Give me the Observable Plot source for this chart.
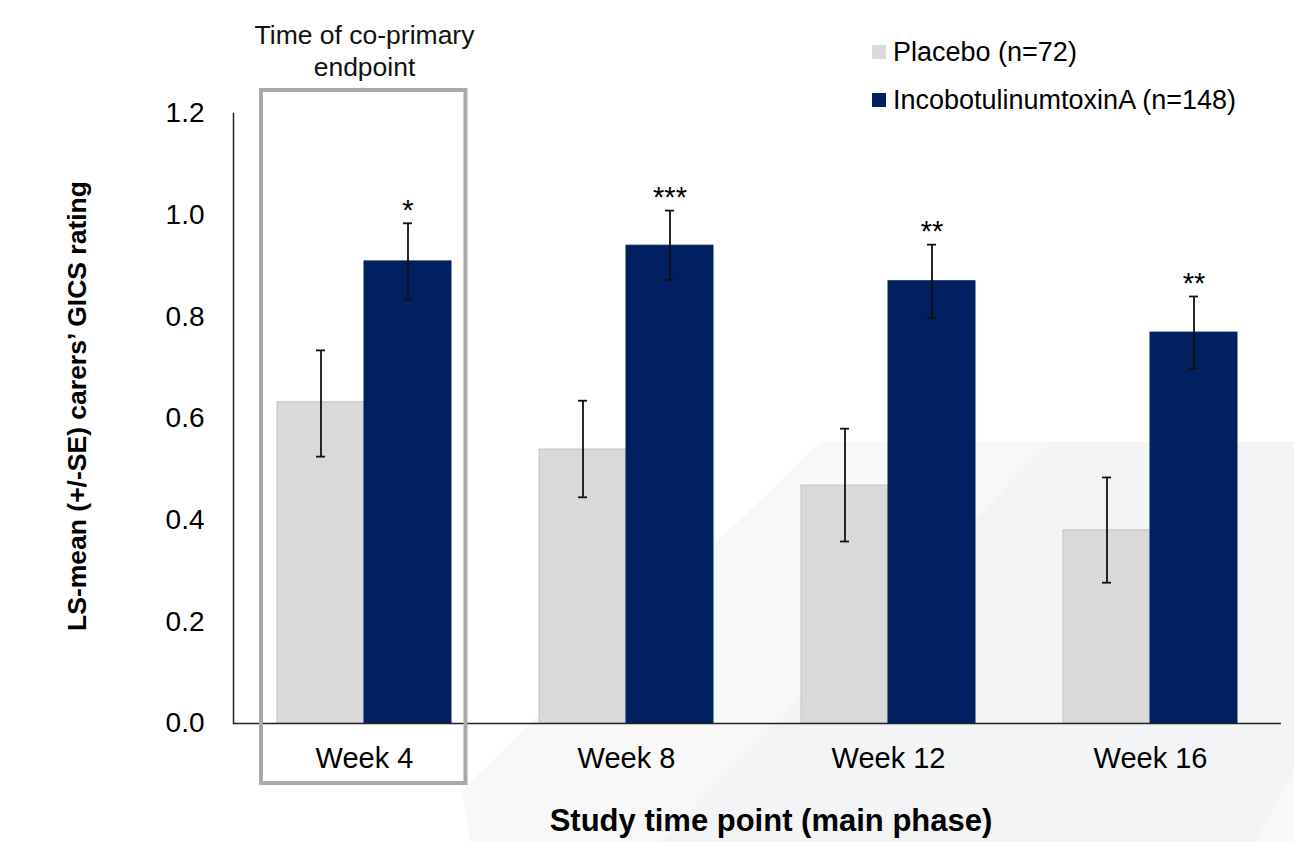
<!DOCTYPE html>
<html>
<head>
<meta charset="utf-8">
<script src="https://cdn.jsdelivr.net/npm/d3@7"></script>
<script src="https://cdn.jsdelivr.net/npm/@observablehq/plot@0.6"></script>
<style>
  html, body { margin: 0; padding: 0; background: #fff; }
  body { width: 1294px; height: 842px; position: relative; overflow: hidden; font-family: "Liberation Sans", Arial, sans-serif; color: #000; }
  #bg { position: absolute; left: 0; top: 0; }
  #chart { position: absolute; left: 0; top: 0; }
  .legend { position: absolute; left: 872px; top: 28px; font-size: 27px; line-height: 48px; }
  .legend .row { display: flex; align-items: center; white-space: nowrap; }
  .legend .sw { width: 14px; height: 14px; margin-right: 7px; }
  .ytitle { position: absolute; left: 77px; top: 406px; transform: translate(-50%, -50%) rotate(-90deg); font-weight: bold; font-size: 26.5px; white-space: nowrap; }
  .xtitle { position: absolute; left: 771px; top: 821px; transform: translate(-50%, -50%); font-weight: bold; font-size: 31px; white-space: nowrap; }
</style>
</head>
<body>
<svg id="bg" width="1294" height="842">
  <polygon points="820,442 1294,442 1294,842 470,842 462,790" fill="#f8f8f9"/>
  <polygon points="1050,442 1294,442 1294,770 1255,842 660,842" fill="#f3f4f6"/>
</svg>
<div id="chart"></div>
<div class="legend" id="legend"></div>
<div class="ytitle" id="ytitle"></div>
<div class="xtitle" id="xtitle"></div>
<script>
// ---- data ----
const weeks = ["Week 4", "Week 8", "Week 12", "Week 16"];
const seriesNames = ["Placebo (n=72)", "IncobotulinumtoxinA (n=148)"];
const seriesColors = ["#d9d9d9", "#00205f"];
const placeboMean = [0.632, 0.539, 0.468, 0.380];
const placeboLo   = [0.525, 0.445, 0.358, 0.277];
const placeboHi   = [0.734, 0.635, 0.580, 0.484];
const incoMean = [0.909, 0.940, 0.870, 0.769];
const incoLo   = [0.834, 0.873, 0.797, 0.698];
const incoHi   = [0.984, 1.009, 0.942, 0.840];
const stars = ["*", "***", "**", "**"];
const yTicks = [0, 0.2, 0.4, 0.6, 0.8, 1.0, 1.2];
const yMax = 1.2;
const highlightWeek = "Week 4";
const annotation = "Time of co-primary\nendpoint";
const yTitle = "LS-mean (+/-SE) carers\u2019 GICS rating";
const xTitle = "Study time point (main phase)";

// ---- table ----
const rows = [];
weeks.forEach((w, i) => {
  rows.push({week: w, series: seriesNames[0], mean: placeboMean[i], lo: placeboLo[i], hi: placeboHi[i], star: ""});
  rows.push({week: w, series: seriesNames[1], mean: incoMean[i], lo: incoLo[i], hi: incoHi[i], star: stars[i]});
});

const chart = Plot.plot({
  width: 1294,
  height: 842,
  marginTop: 113,
  marginBottom: 119,
  marginLeft: 232,
  marginRight: 12,
  style: {background: "transparent", fontFamily: "'Liberation Sans', Arial, sans-serif", color: "#000"},
  fx: {domain: weeks, padding: 0, label: null, axis: null},
  x: {domain: seriesNames, paddingInner: 0, paddingOuter: 0.5, axis: null},
  y: {domain: [0, yMax], axis: null},
  color: {domain: seriesNames, range: seriesColors},
  marks: [
    Plot.barY(rows, {
      fx: "week", x: "series", y: "mean", fill: "series",
      stroke: d => d.series === seriesNames[0] ? "#c4c4c4" : "#00205f", strokeWidth: 1
    }),
    Plot.ruleX(rows, {fx: "week", x: "series", y1: "lo", y2: "hi", stroke: "#111", strokeWidth: 1.8}),
    Plot.tickY(rows, {fx: "week", x: "series", y: "lo", stroke: "#111", strokeWidth: 1.8, insetLeft: 39, insetRight: 39}),
    Plot.tickY(rows, {fx: "week", x: "series", y: "hi", stroke: "#111", strokeWidth: 1.8, insetLeft: 39, insetRight: 39}),
    Plot.text(rows.filter(d => d.star), {fx: "week", x: "series", y: "hi", text: "star", dy: -13, fontSize: 29, fill: "#000"}),
    Plot.ruleY([0], {stroke: "#222", strokeWidth: 1.5}),
    Plot.frame({anchor: "left", facetAnchor: "left", stroke: "#222", strokeWidth: 1.5}),
    Plot.barY([highlightWeek], {
      fx: d => d, y1: () => 0, y2: () => yMax,
      fill: "none", stroke: "#a9a9a9", strokeWidth: 4,
      insetLeft: 28, insetRight: 29.5, insetTop: -23, insetBottom: -60
    }),
    Plot.text([highlightWeek], {
      fx: d => d, y: () => yMax, text: () => annotation,
      dy: -64, fontSize: 26.5, lineHeight: 1.2, fill: "#111"
    }),
    Plot.axisFx({anchor: "bottom", tickSize: 0, tickPadding: 24, fontSize: 29, label: null, fill: "#000"}),
    Plot.axisY({ticks: yTicks, tickSize: 0, tickPadding: 29, fontSize: 28, tickFormat: d3.format(".1f"), label: null, fill: "#000"})
  ]
});
document.getElementById("chart").appendChild(chart);

// legend
const legend = document.getElementById("legend");
seriesNames.forEach((s, i) => {
  const row = document.createElement("div");
  row.className = "row";
  const sw = document.createElement("span");
  sw.className = "sw";
  sw.style.background = seriesColors[i];
  const t = document.createElement("span");
  t.textContent = s;
  row.appendChild(sw);
  row.appendChild(t);
  legend.appendChild(row);
});
document.getElementById("ytitle").textContent = yTitle;
document.getElementById("xtitle").textContent = xTitle;
</script>
</body>
</html>
